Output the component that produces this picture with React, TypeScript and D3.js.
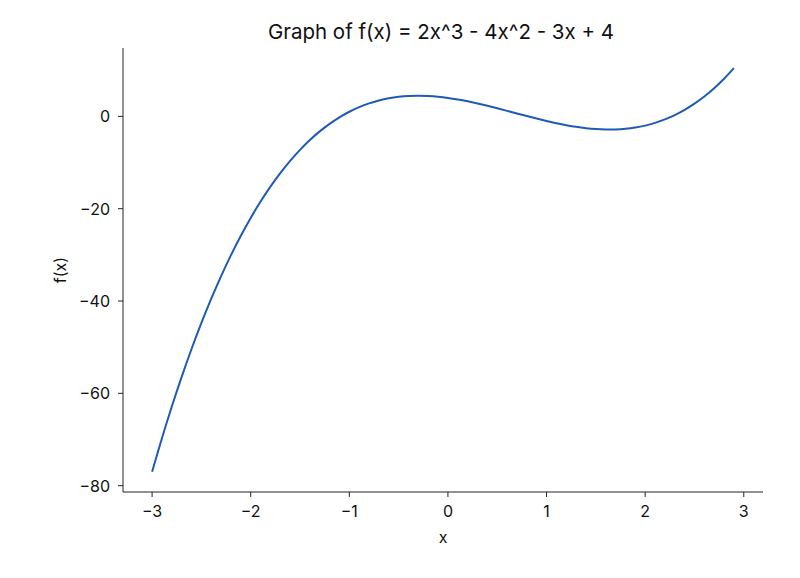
import React from "react";
import * as d3 from "d3";

const xs = [-3.0, -2.9, -2.8, -2.7, -2.6, -2.5, -2.4, -2.3, -2.2, -2.1, -2.0, -1.9, -1.8, -1.7, -1.6, -1.5, -1.4, -1.3, -1.2, -1.1, -1.0, -0.9, -0.8, -0.7, -0.6, -0.5, -0.4, -0.3, -0.2, -0.1, 0.0, 0.1, 0.2, 0.3, 0.4, 0.5, 0.6, 0.7, 0.8, 0.9, 1.0, 1.1, 1.2, 1.3, 1.4, 1.5, 1.6, 1.7, 1.8, 1.9, 2.0, 2.1, 2.2, 2.3, 2.4, 2.5, 2.6, 2.7, 2.8, 2.9];
const ys = [-77, -69.718, -62.864, -56.426, -50.392, -44.75, -39.488, -34.594, -30.056, -25.862, -22, -18.458, -15.224, -12.286, -9.632, -7.25, -5.128, -3.254, -1.616, -0.202, 1, 2.002, 2.816, 3.454, 3.928, 4.25, 4.432, 4.486, 4.424, 4.258, 4, 3.662, 3.256, 2.794, 2.288, 1.75, 1.192, 0.626, 0.064, -0.482, -1, -1.478, -1.904, -2.266, -2.552, -2.75, -2.848, -2.834, -2.696, -2.422, -2, -1.418, -0.664, 0.274, 1.408, 2.75, 4.312, 6.106, 8.144, 10.438];
const xTicks = [-3, -2, -1, 0, 1, 2, 3];
const yTicks = [-80, -60, -40, -20, 0];
const title = "Graph of f(x) = 2x^3 - 4x^2 - 3x + 4";

const W = 800, H = 578;
const left = 123, right = 763, top = 48, bottom = 492;
const FONT = "Inter, 'Noto Sans', sans-serif";

export default function App() {
  const xmin = d3.min(xs)!, xmax = d3.max(xs)!;
  const ymin = d3.min(ys)!, ymax = d3.max(ys)!;
  const xm = (xmax - xmin) * 0.05, ym = (ymax - ymin) * 0.05;
  const x = d3.scaleLinear().domain([xmin - xm, xmax + xm]).range([left, right]);
  const y = d3.scaleLinear().domain([ymin - ym, ymax + ym]).range([bottom, top]);
  const pts: [number, number][] = xs.map((v, i) => [v, ys[i]]);
  const line = d3.line<[number, number]>().x(d => x(d[0])).y(d => y(d[1])).curve(d3.curveCatmullRom);
  const fmt = (v: number) => (v < 0 ? "\u2212" + Math.abs(v) : String(v));
  return (
    <svg width={W} height={H} style={{ position: "absolute", left: 0, top: 0, background: "#fff" }} fontFamily={FONT}>
      <rect x={0} y={0} width={W} height={H} fill="#fff" />
      <path d={line(pts) || ""} fill="none" stroke="#1f5bb5" strokeWidth={2} />
      <line x1={left} x2={left} y1={top} y2={bottom} stroke="#222" strokeWidth={1} />
      <line x1={left} x2={right} y1={bottom} y2={bottom} stroke="#222" strokeWidth={1} />
      {xTicks.map(t => (
        <g key={"x" + t}>
          <line x1={x(t)} x2={x(t)} y1={bottom} y2={bottom + 5} stroke="#222" />
          <text x={x(t)} y={bottom + 25} textAnchor="middle" fontSize={16} fill="#111">{fmt(t)}</text>
        </g>
      ))}
      {yTicks.map(t => (
        <g key={"y" + t}>
          <line x1={left - 5} x2={left} y1={y(t)} y2={y(t)} stroke="#222" />
          <text x={left - 13} y={y(t) + 6} textAnchor="end" fontSize={16} fill="#111">{fmt(t)}</text>
        </g>
      ))}
      <text x={(left + right) / 2} y={543} textAnchor="middle" fontSize={16} fill="#111">x</text>
      <text transform={`translate(66, ${(top + bottom) / 2}) rotate(-90)`} textAnchor="middle" fontSize={16} fill="#111">f(x)</text>
      <text x={(left + right) / 2 - 2} y={39} textAnchor="middle" fontSize={20.5} fill="#111">{title}</text>
    </svg>
  );
}
